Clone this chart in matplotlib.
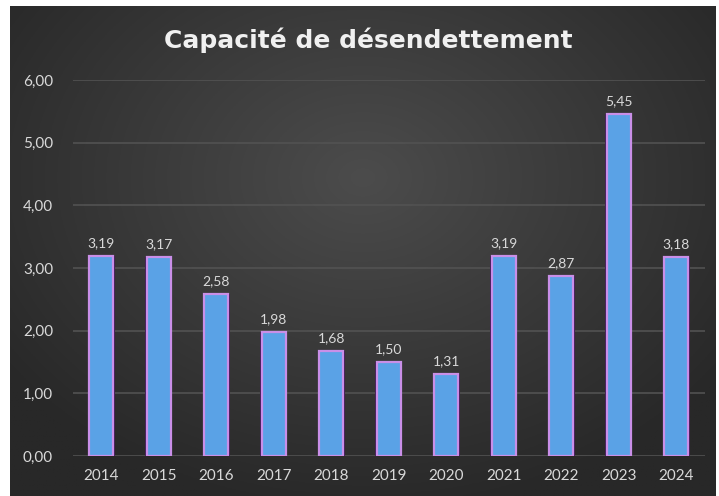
import numpy as np
import matplotlib
matplotlib.use("Agg")
import matplotlib.pyplot as plt

years = ["2014", "2015", "2016", "2017", "2018", "2019", "2020", "2021", "2022", "2023", "2024"]
values = [3.19, 3.17, 2.58, 1.98, 1.68, 1.50, 1.31, 3.19, 2.87, 5.45, 3.18]
yticks = [0, 1, 2, 3, 4, 5, 6]
title = "Capacité de désendettement"

W, H = 719, 496
fig = plt.figure(figsize=(W / 100, H / 100), dpi=100)
fig.patch.set_facecolor("white")

# background panel with radial gradient
x0, x1, y0, y1 = 10, 716, 6, 496
bg = fig.add_axes([x0 / W, 1 - y1 / H, (x1 - x0) / W, (y1 - y0) / H])
bg.set_axis_off()
gx, gy = np.meshgrid(np.linspace(-1, 1, 400), np.linspace(-1, 1, 300))
r = np.sqrt((gx / 1.0) ** 2 + ((gy + 0.3) / 1.1) ** 2)
r = np.clip(r / 1.25, 0, 1)
c_in = np.array([0x4c, 0x4c, 0x4c]) / 255
c_out = np.array([0x28, 0x28, 0x28]) / 255
img = c_in[None, None, :] * (1 - r[..., None]) + c_out[None, None, :] * r[..., None]
bg.imshow(img, aspect="auto", extent=[0, 1, 0, 1], origin="upper")
bg.set_xlim(0, 1)
bg.set_ylim(0, 1)

# main axes
left, right, top, bottom = 72.5, 705, 80, 456
ax = fig.add_axes([left / W, 1 - bottom / H, (right - left) / W, (bottom - top) / H])
ax.patch.set_alpha(0)
xpos = np.arange(len(years))
ax.bar(xpos, values, width=0.47, color="#3b1650", zorder=2)
ax.bar(xpos, values, width=0.42, color="#5aa2e6", edgecolor="#c98fe8", linewidth=1.6, zorder=3)

for xp, v in zip(xpos, values):
    ax.annotate(f"{v:.2f}".replace(".", ","), (xp, v), xytext=(0, 5), textcoords="offset points",
                ha="center", va="bottom", color="#d9d9d9", fontsize=10, family="Lato", zorder=4)

ax.set_xlim(-0.5, len(years) - 0.5)
ax.set_ylim(0, 6)
ax.set_yticks(yticks)
ax.set_yticklabels([f"{t:.2f}".replace(".", ",") for t in yticks])
ax.set_xticks(xpos)
ax.set_xticklabels(years)
ax.grid(axis="y", color="#525252", linewidth=1.2, zorder=1)
ax.set_axisbelow(True)
for s in ax.spines.values():
    s.set_visible(False)
ax.tick_params(axis="both", length=0, colors="#d9d9d9", labelsize=11)
ax.tick_params(axis="y", pad=14)
ax.tick_params(axis="x", pad=9)
for lab in ax.get_xticklabels() + ax.get_yticklabels():
    lab.set_family("Lato")

fig.text(368 / W, 1 - 40 / H, title, ha="center", va="center", color="#f0f0f0",
         fontsize=18, fontweight="bold", family="DejaVu Sans")

fig.savefig("out.png", dpi=100, facecolor=fig.get_facecolor())
